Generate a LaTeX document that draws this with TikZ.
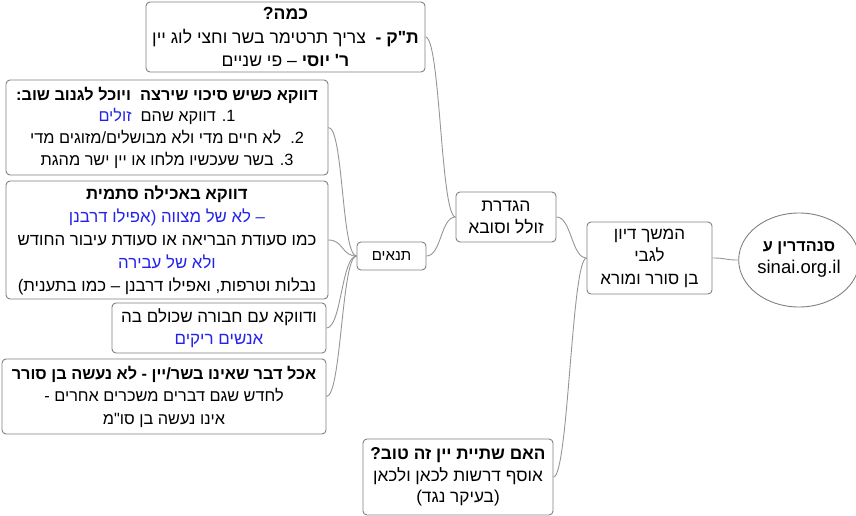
\documentclass[tikz,border=0pt]{standalone}
\usepackage{fontspec}
\setmainfont{Liberation Sans}
\newfontfamily\hebfont[Script=Hebrew]{Liberation Sans}
\TeXXeTstate=1
\usepackage{xcolor}
\usetikzlibrary{positioning, shapes.geometric}
\definecolor{boxgray}{RGB}{128,128,128}
\definecolor{linegray}{RGB}{150,150,150}
\definecolor{noteblue}{RGB}{35,35,235}
\newcommand{\rl}[1]{\beginR #1\endR}
\newcommand{\blu}[1]{\textcolor{noteblue}{#1}}

\begin{document}
\begin{tikzpicture}[x=1pt, y=-1pt,
  topic/.style={draw=boxgray, line width=0.9pt, rounded corners=4pt, align=center, inner sep=1pt},
  sz/.style 2 args={font=\hebfont\fontsize{#1}{#2}\selectfont},
  link/.style={draw=linegray, line width=0.9pt}]
  \useasboundingbox (0,0) rectangle (856,516);
  \node[topic, sz={16.2}{22}, ellipse, rounded corners=0pt, minimum width=113pt, minimum height=94pt] (root) at (799,260) {\rl{\textbf{סנהדרין ע}}\\{\fontsize{18.5}{22}\selectfont sinai.org.il}};
  \node[topic, sz={17}{22.5}, minimum width=125pt, minimum height=72pt] (cont) at (649.5,258) {\rl{המשך דיון}\\\rl{לגבי}\\\rl{בן סורר ומורא}};
  \node[topic, sz={17.5}{22}, minimum width=100pt, minimum height=50pt] (define) at (506,217) {\rl{הגדרת}\\\rl{זולל וסובא}};
  \node[topic, sz={17.2}{21.5}, minimum width=190pt, minimum height=76pt] (wine) at (458,477) {\rl{\textbf{האם שתיית יין זה טוב?}}\\\rl{אוסף דרשות לכאן ולכאן}\\\rl{(בעיקר נגד)}};
  \node[topic, sz={17.6}{23.5}, minimum width=279pt, minimum height=70pt] (amount) at (285.5,37) {\rl{\textbf{כמה?}}\\\rl{\textbf{ת"ק -}\ \ צריך תרטימר בשר וחצי לוג יין}\\\rl{\textbf{ר' יוסי} – פי שניים}};
  \node[topic, sz={15}{20}, minimum width=69pt, minimum height=28pt] (cond) at (391.5,256) {\rl{תנאים}};
  \node[topic, sz={16.3}{21.7}, minimum width=322pt, minimum height=95pt] (steal) at (167,127.5) {\rl{\textbf{דווקא כשיש סיכוי שירצה\ \ ויוכל לגנוב שוב:}}\\\blu{\rl{זולים}}\ \ \rl{1\kern0pt. דווקא שהם}\\\rl{2\kern0pt.\ \ לא חיים מדי ולא מבושלים/מזוגים מדי}\\\rl{3\kern0pt. בשר שעכשיו מלחו או יין ישר מהגת}};
  \node[topic, sz={16.8}{23}, minimum width=322pt, minimum height=118pt] (meal) at (167,240) {\rl{\textbf{דווקא באכילה סתמית}}\\\blu{\rl{– לא של מצווה (אפילו דרבנן}}\\\rl{כמו סעודת הבריאה או סעודת עיבור החודש}\\\blu{\rl{ולא של עבירה}}\\\rl{נבלות וטרפות, ואפילו דרבנן – כמו בתענית)}};
  \node[topic, sz={17}{22}, minimum width=214pt, minimum height=50pt] (company) at (219,328) {\rl{ודווקא עם חבורה שכולם בה}\\\blu{\rl{אנשים ריקים}}};
  \node[topic, sz={16.3}{22.5}, minimum width=324pt, minimum height=75pt] (other) at (164,396.5) {\rl{\textbf{אכל דבר שאינו בשר/יין - לא נעשה בן סורר}}\\\rl{לחדש שגם דברים משכרים אחרים -}\\\rl{אינו נעשה בן סו"מ}};
  % branches
  \draw[link] (root.west) to[out=180, in=0, distance=15pt] (cont.east);
  \foreach \c in {define,wine}{\draw[link] (cont.west) to[out=180, in=0, distance=15pt] (\c.east);}
  \foreach \c in {amount,cond}{\draw[link] (define.west) to[out=180, in=0, distance=15pt] (\c.east);}
  \foreach \c in {steal,meal,company,other}{\draw[link] (cond.west) to[out=180, in=0, distance=15pt] (\c.east);}
\end{tikzpicture}
\end{document}
